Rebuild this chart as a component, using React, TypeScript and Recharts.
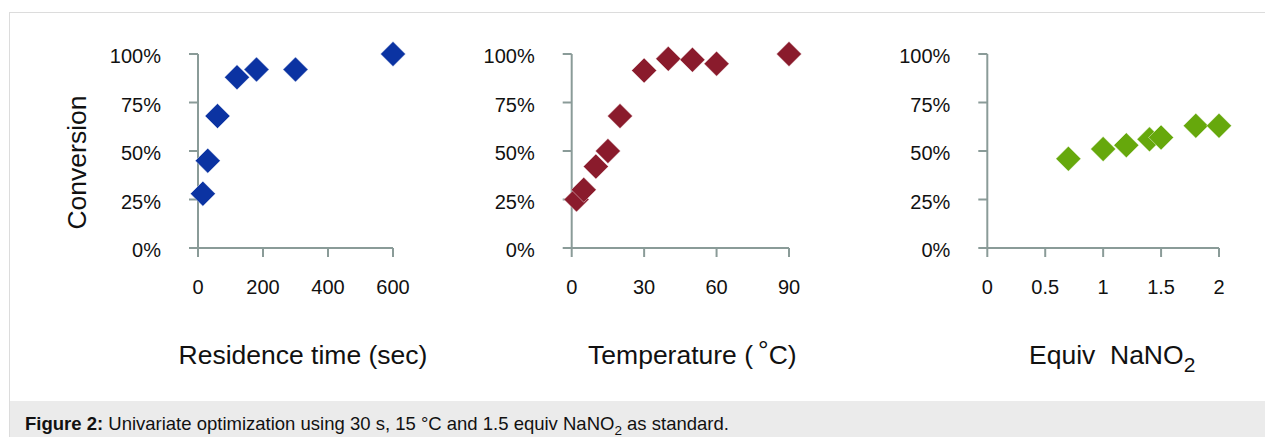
import React from "react";
import { ScatterChart, Scatter, XAxis, YAxis } from "recharts";

// ---- Data ----
const timeX = [15, 30, 60, 120, 180, 300, 600];
const timeY = [28, 45, 68, 88, 92, 92, 100];

const tempX = [2, 5, 10, 15, 20, 30, 40, 50, 60, 90];
const tempY = [25, 30, 42, 50, 68, 91.5, 97.5, 97, 95, 100];

const equivX = [0.7, 1.0, 1.2, 1.4, 1.5, 1.8, 2.0];
const equivY = [46, 51, 53, 56, 57, 63, 63];

const yTicks = [0, 25, 50, 75, 100];
const timeTicks = [0, 200, 400, 600];
const tempTicks = [0, 30, 60, 90];
const equivTicks = [0, 0.5, 1, 1.5, 2];

const FONT = '"Liberation Sans", Arial, Helvetica, sans-serif';
const AXIS_COLOR = "#8a9b98";
const TEXT_COLOR = "#111";

const toPoints = (xs: number[], ys: number[]) => xs.map((x, i) => ({ x, y: ys[i] }));

const makeDiamond = (fill: string) => (props: any) => {
  const { cx, cy } = props;
  const r = 12.5;
  return (
    <polygon
      points={`${cx},${cy - r} ${cx + r},${cy} ${cx},${cy + r} ${cx - r},${cy}`}
      fill={fill}
      stroke="rgba(255,255,255,0.55)"
      strokeWidth={0.8}
    />
  );
};

const axisLine = { stroke: AXIS_COLOR, strokeWidth: 2 };
const tickLine = { stroke: AXIS_COLOR, strokeWidth: 2 };
const tickStyle = { fill: TEXT_COLOR, fontSize: 20, fontFamily: FONT };

type PanelProps = {
  left: number;
  width: number;
  marginLeft: number;
  marginRight: number;
  data: { x: number; y: number }[];
  domain: [number, number];
  ticks: number[];
  color: string;
  xLabel: (vb: any) => React.ReactNode;
  yLabel?: (vb: any) => React.ReactNode;
};

const Panel = ({ left, width, marginLeft, marginRight, data, domain, ticks, color, xLabel, yLabel }: PanelProps) => (
  <div style={{ position: "absolute", left, top: 0, width, height: 400 }}>
    <ScatterChart
      width={width}
      height={400}
      margin={{ top: 54, right: marginRight, bottom: 112, left: marginLeft }}
    >
      <XAxis
        type="number"
        dataKey="x"
        domain={domain}
        ticks={ticks}
        interval={0}
        axisLine={axisLine}
        tickLine={tickLine}
        tickSize={9}
        tickMargin={23}
        tick={tickStyle}
        height={40}
        label={(p: any) => xLabel(p.viewBox)}
      />
      <YAxis
        type="number"
        dataKey="y"
        domain={[0, 100]}
        ticks={yTicks}
        interval={0}
        axisLine={axisLine}
        tickLine={tickLine}
        tickSize={9}
        tickMargin={28}
        tick={{ ...tickStyle, dy: 2 }}
        tickFormatter={(v: number) => `${v}%`}
        width={60}
        label={yLabel ? (p: any) => yLabel(p.viewBox) : undefined}
      />
      <Scatter data={data} shape={makeDiamond(color)} isAnimationActive={false} />
    </ScatterChart>
  </div>
);

const titleStyle = { fontSize: 26.5, fontFamily: FONT, fill: TEXT_COLOR };

export default function App() {
  return (
    <div
      style={{
        position: "absolute",
        left: 0,
        top: 0,
        width: 1265,
        height: 437,
        background: "#fff",
        overflow: "hidden",
        fontFamily: FONT,
      }}
    >
      <div
        style={{
          position: "absolute",
          left: 9,
          top: 12,
          width: 1300,
          height: 430,
          borderTop: "1px solid #dcdcdc",
          borderLeft: "1px solid #dcdcdc",
        }}
      />
      <Panel
        left={0}
        width={440}
        marginLeft={138}
        marginRight={47}
        data={toPoints(timeX, timeY)}
        domain={[0, 600]}
        ticks={timeTicks}
        color="#0b33a2"
        xLabel={(vb) => (
          <text x={vb.x + vb.width / 2 + 7.5} y={364} textAnchor="middle" style={titleStyle}>
            Residence time (sec)
          </text>
        )}
        yLabel={() => (
          <text
            x={77}
            y={162.5}
            textAnchor="middle"
            dominantBaseline="central"
            transform="rotate(-90, 77, 162.5)"
            style={titleStyle}
          >
            Conversion
          </text>
        )}
      />
      <Panel
        left={440}
        width={420}
        marginLeft={71.7}
        marginRight={71}
        data={toPoints(tempX, tempY)}
        domain={[0, 90]}
        ticks={tempTicks}
        color="#8a1b2c"
        xLabel={(vb) => (
          <text x={vb.x + vb.width / 2 + 12} y={364} textAnchor="middle" style={titleStyle}>
            Temperature (
            <tspan dx={5} dy={-5}>°</tspan>
            <tspan dy={5}>C)</tspan>
          </text>
        )}
      />
      <Panel
        left={860}
        width={405}
        marginLeft={67.3}
        marginRight={46}
        data={toPoints(equivX, equivY)}
        domain={[0, 2]}
        ticks={equivTicks}
        color="#66a80c"
        xLabel={(vb) => (
          <text x={vb.x + vb.width / 2 + 9} y={364} textAnchor="middle" style={titleStyle}>
            {"Equiv\u00a0 NaNO"}
            <tspan dy={8} fontSize={21}>2</tspan>
          </text>
        )}
      />
      <div
        style={{
          position: "absolute",
          left: 10,
          top: 401,
          width: 1265,
          height: 36,
          background: "#ebebeb",
          fontSize: 18.5,
          lineHeight: "22px",
          color: "#111",
          paddingLeft: 15,
          paddingTop: 12,
          boxSizing: "border-box",
          whiteSpace: "nowrap",
        }}
      >
        <b>Figure 2:</b> Univariate optimization using 30 s, 15 °C and 1.5 equiv NaNO
        <sub style={{ fontSize: 13.5, lineHeight: 0 }}>2</sub> as standard.
      </div>
    </div>
  );
}
